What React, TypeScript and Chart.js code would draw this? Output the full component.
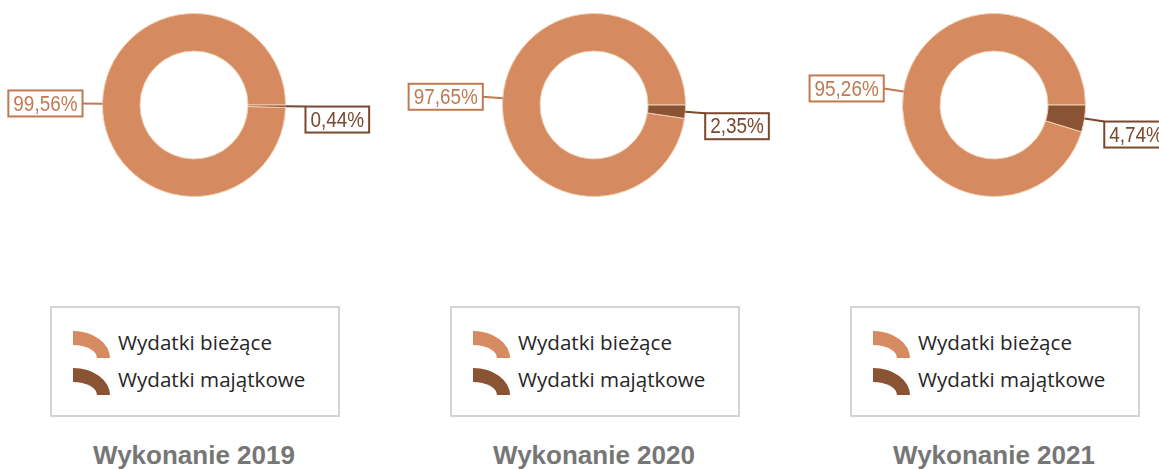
import React, { useEffect, useRef } from "react";
import { Chart, registerables } from "chart.js";

Chart.register(...registerables);

const categories = ["Wydatki bieżące", "Wydatki majątkowe"];
const titles = ["Wykonanie 2019", "Wykonanie 2020", "Wykonanie 2021"];
const biezace = [99.56, 97.65, 95.26];
const majatkowe = [0.44, 2.35, 4.74];

const sliceColors = ["#D68A5F", "#8A5434"];
const labelColors = ["#C07A52", "#7A482C"];
const centers = [194, 594, 994];

const fmt = (v: number) => v.toFixed(2).replace(".", ",") + "%";

const NARROW = 0.86;

const labelPlugin = {
  id: "calloutLabels",
  afterDatasetsDraw(chart: any) {
    const ctx = chart.ctx;
    const meta = chart.getDatasetMeta(0);
    const data = chart.data.datasets[0].data as number[];
    ctx.save();
    ctx.font = '22px "Liberation Sans Narrow", "Liberation Sans", Arial, sans-serif';
    meta.data.forEach((arc: any, i: number) => {
      const p = arc.getProps(["x", "y", "startAngle", "endAngle", "outerRadius"], true);
      const mid = (p.startAngle + p.endAngle) / 2;
      const c = Math.cos(mid);
      const s = Math.sin(mid);
      const ex = p.x + c * p.outerRadius;
      const ey = p.y + s * p.outerRadius;
      const ax = ex + c * 20;
      const ay = ey + s * 20;
      const col = labelColors[i];
      ctx.strokeStyle = col;
      ctx.lineWidth = 2;
      ctx.beginPath();
      ctx.moveTo(ex, ey);
      ctx.lineTo(ax, ay);
      ctx.stroke();
      const text = fmt(data[i]);
      const tw = ctx.measureText(text).width * NARROW;
      const bw = tw + 10;
      const bh = 26;
      let bx: number, by: number;
      if (c < 0) {
        bx = ax - bw;
        by = ay - bh / 2;
      } else {
        bx = ax;
        by = ay;
      }
      ctx.fillStyle = "#ffffff";
      ctx.fillRect(bx, by, bw, bh);
      ctx.strokeRect(bx, by, bw, bh);
      ctx.fillStyle = col;
      ctx.textAlign = "center";
      ctx.textBaseline = "middle";
      ctx.save();
      ctx.translate(bx + bw / 2, by + bh / 2 + 1);
      ctx.scale(NARROW, 1);
      ctx.fillText(text, 0, 0);
      ctx.restore();
    });
    ctx.restore();
  },
};

function Donut({ idx }: { idx: number }) {
  const ref = useRef<HTMLCanvasElement>(null);
  useEffect(() => {
    if (!ref.current) return;
    const values = [biezace[idx], majatkowe[idx]];
    const total = values[0] + values[1];
    const chart = new Chart(ref.current, {
      type: "doughnut",
      data: {
        labels: categories,
        datasets: [
          {
            data: values,
            backgroundColor: sliceColors,
            borderColor: "#F2CDB2",
            borderWidth: 1,
          },
        ],
      },
      options: {
        animation: false,
        responsive: false,
        rotation: 90 + (values[1] / total) * 360,
        cutout: "59%",
        layout: { padding: { left: 108, right: 108, top: 13, bottom: 13 } },
        plugins: {
          legend: { display: false },
          tooltip: { enabled: false },
        },
      },
      plugins: [labelPlugin],
    });
    return () => chart.destroy();
  }, [idx]);
  return (
    <canvas
      ref={ref}
      width={400}
      height={210}
      style={{ position: "absolute", left: centers[idx] - 200, top: 0, width: 400, height: 210 }}
    />
  );
}

function LegendIcon({ color }: { color: string }) {
  return (
    <div
      style={{
        width: 24,
        height: 13,
        borderTop: `14px solid ${color}`,
        borderRight: `13px solid ${color}`,
        borderTopRightRadius: "37px 27px",
        marginRight: 8,
        flexShrink: 0,
      }}
    />
  );
}

function Panel({ idx }: { idx: number }) {
  const cx = centers[idx];
  return (
    <>
      <Donut idx={idx} />
      <div
        style={{
          position: "absolute",
          left: cx - 144,
          top: 306,
          width: 286,
          height: 107,
          border: "2px solid #D4D4D4",
          boxSizing: "content-box",
        }}
      >
        {categories.map((c, i) => (
          <div
            key={c}
            style={{
              position: "absolute",
              left: 21,
              top: 21 + i * 37,
              display: "flex",
              alignItems: "center",
              height: 30,
            }}
          >
            <LegendIcon color={sliceColors[i]} />
            <span
              style={{
                font: '20.6px "Open Sans", "Noto Sans", sans-serif',
                color: "#262626",
                whiteSpace: "nowrap",
                marginTop: -4,
              }}
            >
              {c}
            </span>
          </div>
        ))}
      </div>
      <div
        style={{
          position: "absolute",
          left: cx - 150,
          width: 300,
          top: 440,
          textAlign: "center",
          font: 'bold 26px "Liberation Sans", Arial, sans-serif',
          color: "#767676",
          whiteSpace: "nowrap",
        }}
      >
        {titles[idx]}
      </div>
    </>
  );
}

export default function App() {
  return (
    <div
      style={{
        position: "absolute",
        left: 0,
        top: 0,
        width: 1159,
        height: 469,
        overflow: "hidden",
        background: "#ffffff",
      }}
    >
      {titles.map((_, i) => (
        <Panel key={i} idx={i} />
      ))}
    </div>
  );
}
